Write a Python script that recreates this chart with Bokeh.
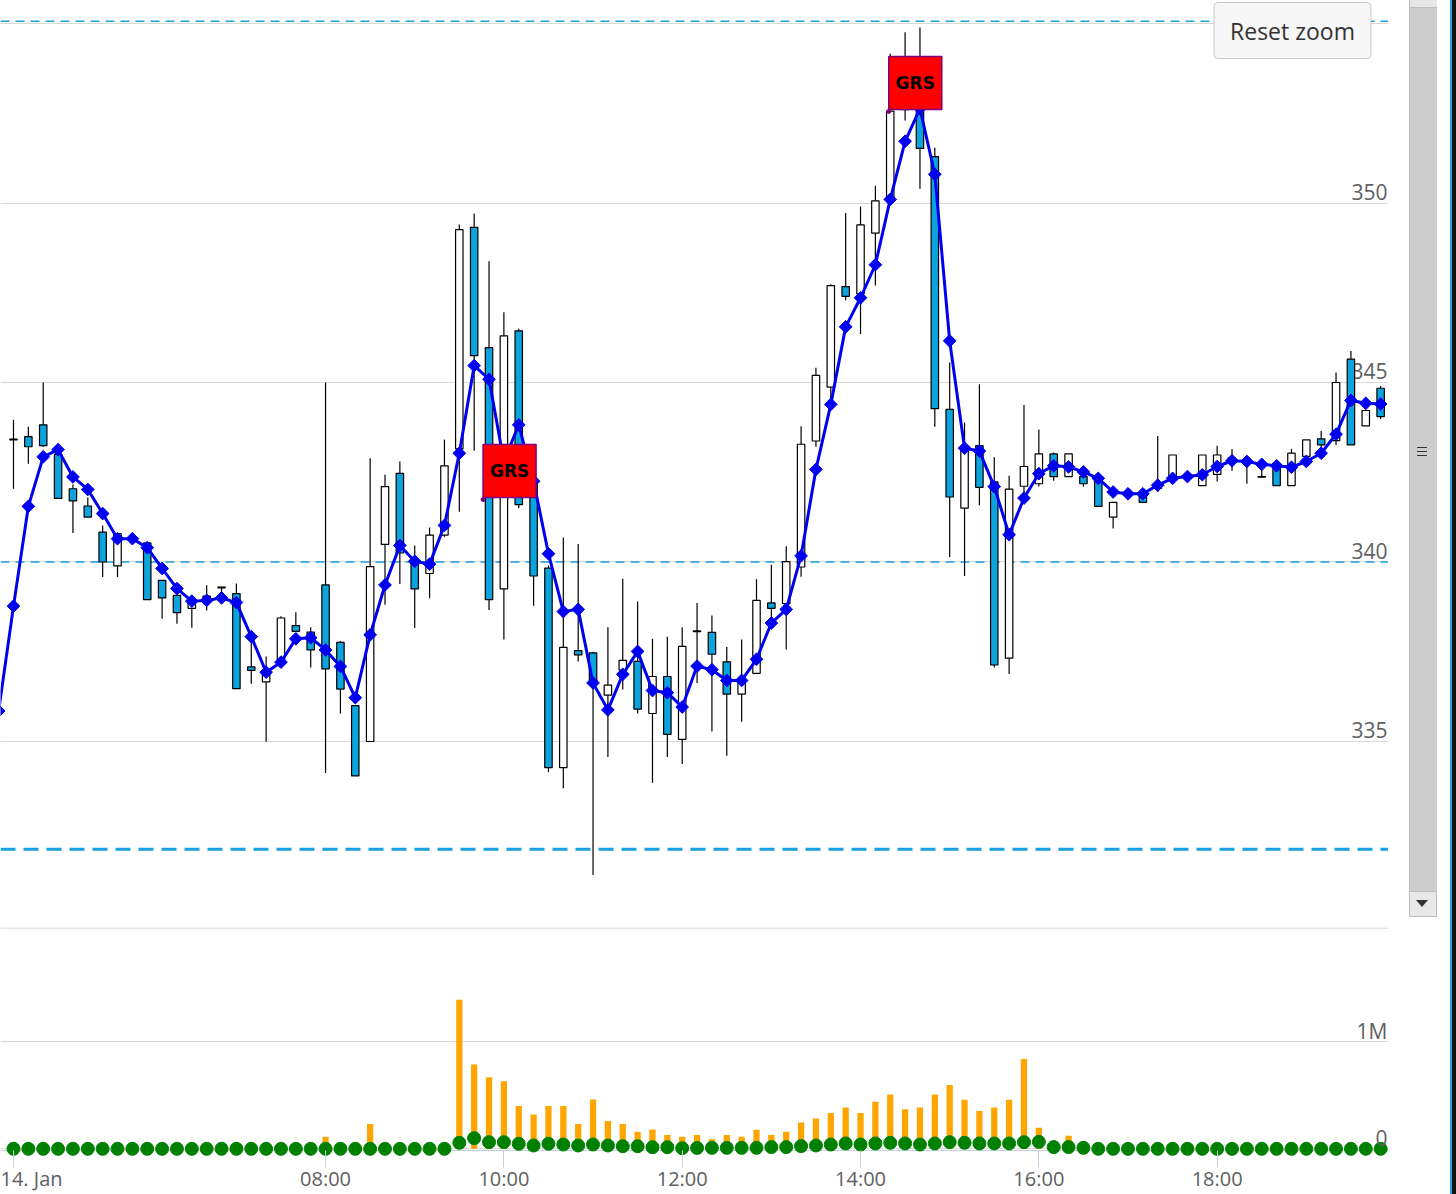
import math
from bokeh.plotting import figure
from bokeh.layouts import column, row
from bokeh.models import (ColumnDataSource, Range1d, FixedTicker, Grid, Span,
                          Label, Div)
from bokeh.core.properties import value
from bokeh.embed import file_html
from bokeh.resources import INLINE

# ---------------- data (10-minute bars, 14 Jan) ----------------
times = []
_m = 4 * 60 + 30
for _k in range(93):
    times.append(f"{_m // 60:02d}:{_m % 60:02d}")
    _m += 10

opens = [343.42, 343.49, 343.82, 343.00, 342.04, 341.56, 340.83, 339.89, 340.66, 340.53,
         339.49, 339.07, 338.71, 338.95, 339.30, 339.12, 337.08, 336.66, 337.16, 338.23,
         338.05, 339.36, 337.76, 336.00, 335.00, 340.49, 342.47, 340.04, 339.68, 340.75,
         343.15, 349.32, 345.97, 339.25, 346.44, 342.30, 339.83, 334.27, 337.53, 337.47,
         336.29, 336.99, 337.23, 335.78, 336.81, 335.06, 338.08, 338.04, 337.22, 336.32,
         336.90, 338.86, 338.84, 339.86, 343.37, 344.87, 347.67, 347.47, 349.16, 350.10,
         352.60, 352.60, 351.29, 344.25, 341.50, 343.24, 342.23, 337.32, 342.11, 342.18,
         343.01, 342.38, 342.38, 342.33, 341.25, 341.95, 341.93, 342.20, 342.33, 342.38,
         342.13, 342.44, 342.90, 342.82, 342.38, 342.75, 342.13, 342.94, 343.43, 343.38,
         345.65, 343.79, 344.84]
highs = [343.96, 343.77, 345.00, 343.10, 342.16, 341.80, 341.02, 340.79, 340.70, 340.55,
         339.50, 339.10, 339.00, 339.35, 339.32, 339.40, 337.89, 337.37, 338.49, 338.60,
         338.18, 345.00, 337.80, 336.00, 342.89, 342.43, 342.80, 340.46, 340.96, 343.41,
         349.40, 349.71, 348.38, 346.96, 346.50, 342.40, 339.90, 340.68, 340.50, 337.50,
         338.18, 339.53, 338.90, 337.86, 337.92, 338.18, 338.86, 338.51, 337.63, 337.84,
         339.52, 339.92, 340.44, 343.78, 345.41, 347.74, 349.72, 349.90, 350.48, 354.16,
         354.76, 354.89, 351.54, 345.56, 343.89, 344.95, 342.92, 342.40, 344.37, 343.69,
         343.05, 343.01, 342.40, 342.35, 341.66, 342.05, 341.95, 343.51, 342.98, 342.42,
         342.98, 343.24, 343.15, 342.85, 342.80, 342.80, 343.15, 343.40, 343.65, 345.28,
         345.88, 344.22, 344.90]
lows = [342.04, 342.74, 343.20, 341.77, 340.81, 341.25, 339.58, 339.58, 340.60, 338.95,
        338.42, 338.28, 338.17, 338.65, 338.98, 336.46, 336.61, 334.99, 337.16, 338.05,
        337.06, 334.12, 335.78, 334.04, 335.00, 338.81, 339.39, 338.16, 338.99, 340.70,
        341.40, 343.10, 338.66, 337.84, 341.50, 338.78, 334.15, 333.70, 337.23, 331.28,
        334.57, 336.45, 335.78, 333.85, 334.57, 334.37, 336.63, 335.28, 334.60, 335.55,
        336.90, 338.21, 337.56, 339.59, 343.21, 344.56, 347.29, 346.35, 347.70, 350.10,
        352.30, 350.40, 343.77, 340.14, 339.61, 341.58, 337.06, 336.88, 341.78, 342.10,
        342.26, 342.38, 342.10, 341.55, 340.93, 341.80, 341.66, 341.95, 342.30, 342.34,
        342.13, 342.24, 342.54, 342.18, 342.36, 342.13, 342.13, 342.90, 343.20, 343.26,
        343.26, 343.79, 343.98]
closes = [343.40, 343.21, 343.24, 341.77, 341.70, 341.25, 340.00, 340.79, 340.64, 338.95,
          339.00, 338.59, 338.94, 339.05, 339.28, 336.47, 336.98, 336.95, 338.44, 338.07,
          337.55, 337.02, 336.46, 334.04, 339.87, 342.10, 340.25, 339.25, 340.75, 342.68,
          349.26, 345.75, 338.95, 346.30, 341.60, 339.61, 334.27, 337.62, 337.41, 336.63,
          336.57, 337.26, 335.90, 336.81, 335.20, 337.65, 338.06, 337.43, 336.32, 336.65,
          338.93, 338.71, 340.01, 343.28, 345.20, 347.70, 347.40, 349.39, 350.06, 352.56,
          353.90, 351.52, 344.27, 341.81, 343.24, 342.08, 337.13, 342.03, 342.66, 343.01,
          342.38, 343.01, 342.18, 341.55, 341.66, 341.93, 341.66, 342.05, 342.98, 342.38,
          342.98, 342.98, 342.82, 342.78, 342.36, 342.13, 343.03, 343.40, 343.26, 345.00,
          343.26, 344.22, 344.05]

# indicator line (starts one bar earlier, 04:20)
line_times = ["04:20"] + times
line_vals = [335.85,
             338.77, 341.55, 342.93, 343.13, 342.37, 342.02, 341.35, 340.65, 340.65, 340.40,
             339.82, 339.26, 338.91, 338.93, 339.00, 338.87, 337.92, 336.93, 337.21, 337.86,
             337.89, 337.55, 337.09, 336.22, 337.97, 339.36, 340.46, 340.02, 339.94, 341.02,
             343.03, 345.47, 345.09, 342.80, 343.82, 342.25, 340.23, 338.62, 338.68, 336.63,
             335.88, 336.87, 337.51, 336.42, 336.36, 335.96, 337.10, 337.00, 336.70, 336.70,
             337.29, 338.30, 338.68, 340.17, 342.58, 344.39, 346.55, 347.36, 348.28, 350.10,
             351.72, 352.63, 350.80, 346.16, 343.17, 343.09, 342.10, 340.76, 341.78, 342.46,
             342.68, 342.65, 342.51, 342.33, 341.95, 341.90, 341.90, 342.14, 342.33, 342.38,
             342.43, 342.66, 342.82, 342.80, 342.72, 342.68, 342.64, 342.80, 343.03, 343.56,
             344.50, 344.42, 344.40]

volume = [0, 0, 0, 0, 0, 0, 0, 0, 0, 0,
          0, 0, 0, 0, 0, 0, 0, 0, 0, 0,
          0, 112000, 30000, 30000, 230000, 40000, 40000, 40000, 40000, 50000,
          1390000, 785000, 667000, 630000, 400000, 320000, 400000, 400000, 230000, 460000,
          260000, 230000, 160000, 180000, 128000, 112000, 128000, 90000, 128000, 112000,
          178000, 128000, 159000, 246000, 283000, 333000, 386000, 333000, 439000, 505000,
          368000, 386000, 505000, 595000, 458000, 352000, 386000, 458000, 838000, 196000,
          40000, 121000, 0, 0, 0, 0, 0, 0, 0, 0,
          0, 0, 0, 0, 0, 0, 0, 0, 0, 0,
          0, 0, 0]
green_vals = [0, 0, 0, 0, 0, 0, 0, 0, 0, 0,
              0, 0, 0, 0, 0, 0, 0, 0, 0, 0,
              0, 0, 0, 0, 0, 0, 0, 0, 0, 0,
              56000, 99000, 62000, 62000, 47000, 31000, 47000, 40000, 31000, 40000,
              31000, 24000, 24000, 15000, 15000, 6000, 8000, 9000, 9000, 9000,
              9000, 16000, 16000, 25000, 31000, 40000, 50000, 40000, 50000, 56000,
              50000, 40000, 50000, 62000, 56000, 50000, 50000, 50000, 62000, 65000,
              16000, 16000, 9000, 0, 0, 0, 0, 0, 0, 0,
              0, 0, 0, 0, 0, 0, 0, 0, 0, 0,
              0, 0, 0]

flag_times = ["09:46", "14:19"]
flag_vals = [341.74, 352.55]
flag_texts = ["GRS", "GRS"]

plot_line_vals = [355.06, 340.0, 332.0]
plot_line_widths = [1.5, 1.5, 3.0]
plot_line_dashes = ["9 6", "9 6", "15 8"]

price_grid = [335, 340, 345, 350, 355]
price_tick_vals = [335, 340, 345, 350]
price_tick_labels = ["335", "340", "345", "350"]
vol_tick_vals = [0, 1000000]
vol_tick_labels = ["0", "1M"]
x_tick_times = ["04:30", "08:00", "10:00", "12:00", "14:00", "16:00", "18:00"]
x_tick_labels = ["14. Jan", "08:00", "10:00", "12:00", "14:00", "16:00", "18:00"]


def idx(t):
    h, m = t.split(":")
    return (int(h) * 60 + int(m) - 270) / 10.0


def drop_default_grids(fig):
    fig.center = [r for r in fig.center if not isinstance(r, Grid)]


# ---------------- geometry ----------------
FW = 1388
PH = 917
VH = 1194 - PH
X0, X1 = -0.8748, 92.53
Y0, Y1 = 330.097, 355.641
PX_X = FW / (X1 - X0)
PX_Y = PH / (Y1 - Y0)

BLUE_FILL = "#0DA3DD"
LABEL_COLOR = "#606060"
FONT = "Open Sans"

x_range = Range1d(X0, X1)

# ---------------- price pane ----------------
p = figure(width=FW, height=PH, x_range=x_range, y_range=Range1d(Y0, Y1),
           output_backend="svg", toolbar_location=None,
           x_axis_location=None, y_axis_location=None,
           min_border=0, outline_line_color=None, background_fill_color="white")
drop_default_grids(p)
p.add_layout(Grid(dimension=1, ticker=FixedTicker(ticks=price_grid),
                  grid_line_color="#D8D8D8", grid_line_width=1))
for v_, w_, d_ in zip(plot_line_vals, plot_line_widths, plot_line_dashes):
    p.add_layout(Span(location=v_, dimension="width", line_color="#1A9FE0",
                      line_width=w_, line_dash=d_, level="underlay"))

p.text(x=[X1] * len(price_tick_vals), y=price_tick_vals, text=price_tick_labels,
       text_align="right", text_baseline="middle", x_offset=-1, y_offset=-11,
       text_font=value(FONT), text_font_size="21px", text_color=LABEL_COLOR)

xs = [idx(t) for t in times]
src = ColumnDataSource(dict(
    x=xs, high=highs, low=lows,
    top=[max(o, c) for o, c in zip(opens, closes)],
    bottom=[min(o, c) for o, c in zip(opens, closes)],
    fill=["white" if c >= o else BLUE_FILL for o, c in zip(opens, closes)],
))
p.segment(x0="x", y0="high", x1="x", y1="low", source=src, line_color="black", line_width=1.2)
p.vbar(x="x", width=0.5, top="top", bottom="bottom", source=src,
       fill_color="fill", line_color="black", line_width=1.2)

lx = [idx(t) for t in line_times]
p.line(lx, line_vals, line_color="#0000F0", line_width=3)
p.scatter(lx, line_vals, marker="square", angle=math.pi / 4, size=9,
          fill_color="#0000F0", line_color="#0000F0")

fx = [idx(t) for t in flag_times]
fcx = [x + 26.5 / PX_X for x in fx]
fcy = [y + 28.5 / PX_Y for y in flag_vals]
p.rect(x=fcx, y=fcy, width=53, height=53, width_units="screen", height_units="screen",
       fill_color="#FF0000", line_color="#800080", line_width=1.5)
p.scatter(fx, flag_vals, size=4, color="#800080")
p.text(x=fcx, y=fcy, text=flag_texts, text_align="center", text_baseline="middle",
       text_font=value("DejaVu Sans"), text_font_style="bold", text_font_size="17px",
       text_color="black")

p.add_layout(Label(x=1292, y=PH - 30, x_units="screen", y_units="screen", text="Reset zoom",
                   text_align="center", text_baseline="middle", text_font=FONT,
                   text_font_size="23px", text_color="#333333",
                   background_fill_color="#F7F7F7", border_line_color="#C8C8C8",
                   border_line_width=1, padding=(16, 12), border_radius=4))

EDGE = ('<div style="position:absolute;left:62px;top:0;width:2px;height:100%;background:#2A9BE6;"></div>'
        '<div style="position:absolute;left:64px;top:0;width:4px;height:100%;background:#111111;"></div>')
scroll_html = (
    '<div style="position:relative;width:68px;height:917px;">'
    '<div style="position:absolute;left:21px;top:0;width:28px;height:917px;'
    'background:#CDCDCD;border-left:1px solid #BDBDBD;box-sizing:border-box;"></div>'
    '<div style="position:absolute;left:21px;top:0;width:28px;height:8px;'
    'background:#E6E6E6;border-left:1px solid #BDBDBD;border-bottom:1px solid #BDBDBD;box-sizing:border-box;"></div>'
    '<div style="position:absolute;left:21px;top:891px;width:28px;height:26px;'
    'background:#E8E8E8;border:1px solid #BDBDBD;box-sizing:border-box;"></div>'
    '<div style="position:absolute;left:28px;top:900px;width:0;height:0;'
    'border-left:6px solid transparent;border-right:6px solid transparent;'
    'border-top:7px solid #333333;"></div>'
    '<div style="position:absolute;left:29px;top:447px;width:10px;height:1px;background:#333;"></div>'
    '<div style="position:absolute;left:29px;top:451px;width:10px;height:1px;background:#333;"></div>'
    '<div style="position:absolute;left:29px;top:455px;width:10px;height:1px;background:#333;"></div>'
    + EDGE + '</div>'
)
scroll = Div(text=scroll_html, width=68, height=PH, margin=(0, 0, 0, 0))
edge = Div(text='<div style="position:relative;width:68px;height:%dpx;">' % VH + EDGE + '</div>',
           width=68, height=VH, margin=(0, 0, 0, 0))

# ---------------- volume pane ----------------
V_ZERO_PX = 1148.3
V_PX_PER = 107.3 / 1e6
vy0 = -(1157 - V_ZERO_PX) / V_PX_PER
vy1 = (V_ZERO_PX - 925) / V_PX_PER
v = figure(width=FW, height=VH, x_range=x_range, y_range=Range1d(vy0, vy1),
           output_backend="svg", toolbar_location=None, y_axis_location=None,
           min_border_left=0, min_border_right=0, min_border_top=8, min_border_bottom=37,
           outline_line_color=None, background_fill_color="white")
drop_default_grids(v)
v.add_layout(Grid(dimension=1, ticker=FixedTicker(ticks=vol_tick_vals),
                  grid_line_color="#D8D8D8", grid_line_width=1))
v.add_layout(Span(location=(V_ZERO_PX - 927.7) / V_PX_PER, dimension="width",
                  line_color="#D8D8D8", line_width=1, level="underlay"))
v.add_layout(Span(location=-(1150 - V_ZERO_PX) / V_PX_PER, dimension="width",
                  line_color="#C0D0E0", line_width=1, level="underlay"))

ax = v.xaxis[0]
tick_pos = [idx(t) for t in x_tick_times]
ax.ticker = FixedTicker(ticks=tick_pos)
ax.major_label_overrides = {tp: lab for tp, lab in zip(tick_pos, x_tick_labels)}
ax.axis_line_color = None
ax.major_tick_line_color = "#C0D0E0"
ax.major_tick_in = 7
ax.major_tick_out = 10
ax.minor_tick_in = 0
ax.minor_tick_out = 0
ax.major_label_standoff = -3
ax.major_label_text_font = FONT
ax.major_label_text_font_size = "20px"
ax.major_label_text_color = LABEL_COLOR

v.vbar(x=xs, top=volume, bottom=0, width=0.42, fill_color="#FFA500", line_color=None)
v.scatter(xs, green_vals, size=13, fill_color="#008000", line_color="#008000")

v.text(x=[X1] * len(vol_tick_vals), y=vol_tick_vals, text=vol_tick_labels,
       text_align="right", text_baseline="middle", x_offset=-1, y_offset=-11,
       text_font=value(FONT), text_font_size="21px", text_color=LABEL_COLOR)

layout = column(row(p, scroll), row(v, edge))
open("out.html", "w").write(file_html(layout, INLINE))
